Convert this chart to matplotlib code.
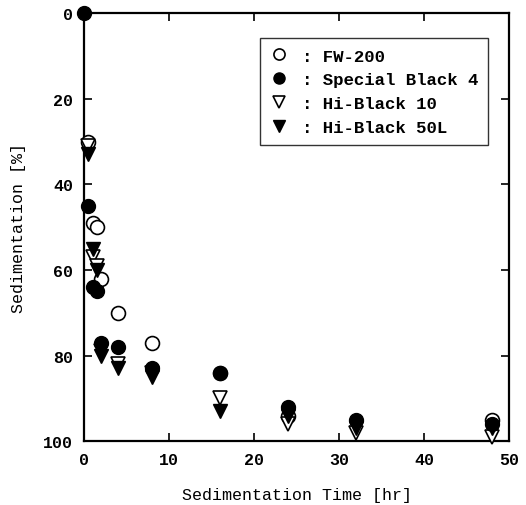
import matplotlib
matplotlib.use("Agg")
import matplotlib.pyplot as plt

# ── data ───────────────────────────────────────────────────────────────────
fw200_t = [0.5, 1, 1.5, 2, 4, 8, 16, 24, 48]
fw200_s = [30, 49, 50, 62, 70, 77, 84, 94, 95]

sb4_t = [0, 0.5, 1, 1.5, 2, 4, 8, 16, 24, 32, 48]
sb4_s = [0, 45, 64, 65, 77, 78, 83, 84, 92, 95, 96]

hb10_t = [0.5, 1, 1.5, 2, 4, 8, 16, 24, 32, 48]
hb10_s = [31, 57, 59, 79, 82, 84, 90, 96, 98, 99]

hb50_t = [0.5, 1, 1.5, 2, 4, 8, 16, 24, 32, 48]
hb50_s = [33, 55, 60, 80, 83, 85, 93, 94, 97, 97]

FONT = "Liberation Mono"
plt.rcParams.update({"font.family": FONT, "font.weight": "bold"})

fig = plt.figure(figsize=(5.26, 5.06), dpi=100)
ax = fig.add_axes([0.16, 0.126, 0.808, 0.846])

ms = 10
ax.plot(fw200_t, fw200_s, "o", ms=ms, mfc="white", mec="black", mew=1.2,
        ls="none", label=": FW-200", clip_on=False, zorder=3)
ax.plot(sb4_t, sb4_s, "o", ms=ms, mfc="black", mec="black",
        ls="none", label=": Special Black 4", clip_on=False, zorder=4)
ax.plot(hb10_t, hb10_s, "v", ms=ms, mfc="white", mec="black", mew=1.2,
        ls="none", label=": Hi-Black 10", clip_on=False, zorder=3)
ax.plot(hb50_t, hb50_s, "v", ms=ms, mfc="black", mec="black",
        ls="none", label=": Hi-Black 50L", clip_on=False, zorder=3)

ax.set_xlim(0, 50)
ax.set_ylim(100, 0)
ax.set_xticks([0, 10, 20, 30, 40, 50])
ax.set_yticks([0, 20, 40, 60, 80, 100])
ax.tick_params(direction="in", length=6, width=1.2, top=True, right=True,
               labelsize=12, pad=8)
for s in ax.spines.values():
    s.set_linewidth(1.6)

ax.set_xlabel("Sedimentation Time [hr]", fontsize=12, labelpad=14)
ax.set_ylabel("Sedimentation [%]", fontsize=12, labelpad=12)

leg = ax.legend(loc="upper right", bbox_to_anchor=(0.951, 0.942), fontsize=12.5,
                frameon=True, fancybox=False, edgecolor="black",
                markerscale=0.8, handletextpad=0.8, handlelength=1.0,
                borderpad=0.6, labelspacing=0.5, borderaxespad=0)
leg.get_frame().set_linewidth(1.0)

fig.savefig("out.png", dpi=100)
